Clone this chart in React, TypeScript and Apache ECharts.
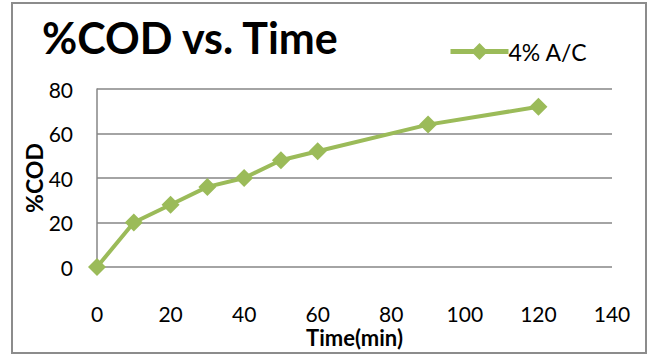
import React, { useEffect, useRef } from "react";
import * as echarts from "echarts";

const timeMin = [0, 10, 20, 30, 40, 50, 60, 90, 120];
const codPct = [0, 20, 28, 36, 40, 48, 52, 64, 72];
const seriesName = "4% A/C";
const titleText = "%COD vs. Time";
const xTitle = "Time(min)";
const yTitle = "%COD";

export default function App() {
  const ref = useRef<HTMLDivElement>(null);
  useEffect(() => {
    const chart = echarts.init(ref.current!, null, { renderer: "svg" });
    const font = "Lato, 'Open Sans', sans-serif";
    chart.setOption({
      animation: false,
      backgroundColor: "#ffffff",
      textStyle: { fontFamily: font },
      graphic: [
        {
          type: "rect",
          shape: { x: 12, y: 3, width: 634, height: 350 },
          style: { fill: "none", stroke: "#8c8c8c", lineWidth: 2 },
          silent: true,
        },
      ],
      title: {
        text: titleText,
        left: 37,
        top: 11,
        textStyle: { fontFamily: font, fontSize: 43, fontWeight: "bold", color: "#000" },
      },
      legend: {
        left: 443,
        top: 35,
        itemWidth: 58,
        itemHeight: 21,
        itemGap: 4,
        lineStyle: { width: 5 },
        textStyle: { fontFamily: font, fontSize: 23, color: "#000", padding: [0, 0, 0, -5] },
        data: [seriesName],
      },
      grid: { left: 97, right: 40, top: 89, bottom: 89 },
      xAxis: {
        type: "value",
        min: 0,
        max: 140,
        interval: 20,
        name: xTitle,
        nameLocation: "middle",
        nameGap: 60,
        nameMoveOverlap: false,
        nameTextStyle: { fontFamily: font, fontSize: 22, fontWeight: "bold", color: "#000", lineHeight: 20 },
        axisLine: { show: false },
        axisTick: { show: false },
        splitLine: { show: false },
        axisLabel: { fontFamily: font, fontSize: 21, color: "#000", margin: 36, lineHeight: 20 },
      },
      yAxis: {
        type: "value",
        min: 0,
        max: 80,
        interval: 20,
        name: yTitle,
        nameLocation: "middle",
        nameGap: 52,
        nameMoveOverlap: false,
        nameTextStyle: { fontFamily: font, fontSize: 23, fontWeight: "bold", color: "#000", lineHeight: 22 },
        axisLine: { show: true, lineStyle: { color: "#868686", width: 1.5 } },
        axisTick: { show: false },
        splitLine: { show: true, lineStyle: { color: "#868686", width: 1.5 } },
        axisLabel: { fontFamily: font, fontSize: 21, color: "#000", margin: 24 },
      },
      series: [
        {
          name: seriesName,
          type: "line",
          data: timeMin.map((t, i) => [t, codPct[i]]),
          symbol: "diamond",
          symbolSize: 18,
          lineStyle: { color: "#9bbb59", width: 4 },
          itemStyle: { color: "#9bbb59" },
        },
      ],
    });
    return () => chart.dispose();
  }, []);
  return (
    <div
      ref={ref}
      style={{ position: "fixed", left: 0, top: 0, width: 652, height: 356 }}
    />
  );
}
